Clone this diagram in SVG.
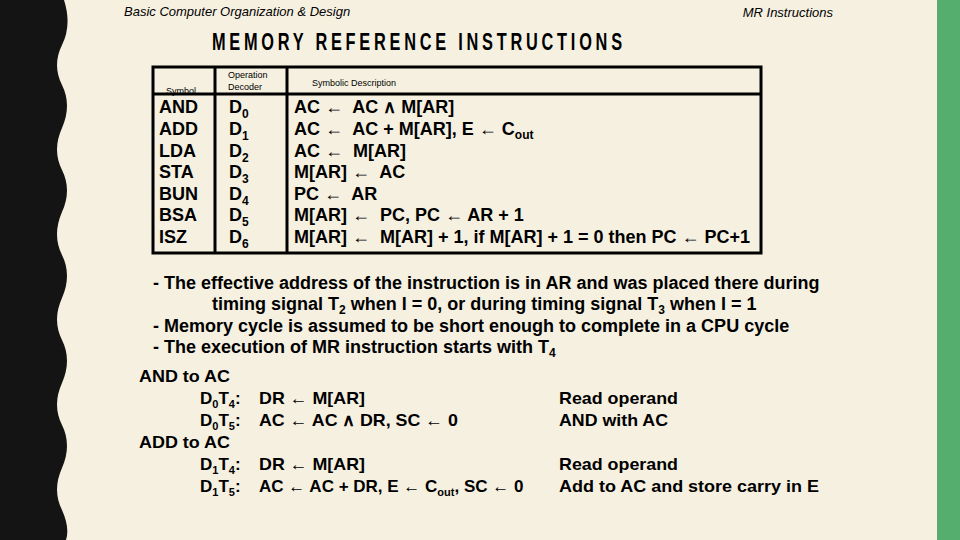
<svg xmlns="http://www.w3.org/2000/svg" width="960" height="540" viewBox="0 0 960 540">
<style>
text{font-family:"Liberation Sans",Arial,sans-serif;fill:#000}
.b{font-weight:bold;font-size:18px}
.s{font-size:9px}
.i{font-style:italic;font-size:13px}
.n{font-weight:bold;font-size:17px}
</style>
<rect width="960" height="540" fill="#F6F0E0"/>
<path d="M0 0 H64 Q72 25 62 45 Q52 65 62 85 Q72 105 62 128 Q52 150 62 170 Q72 190 62 212 Q52 235 62 255 Q72 275 62 298 Q52 320 62 340 Q72 360 62 383 Q52 405 62 425 Q72 445 62 468 Q52 490 62 510 Q70 528 66 540 H0Z" fill="#141414"/>
<rect x="937" y="0" width="23" height="540" fill="#55AE6E"/>
<g id="header">
<text class="i" x="124" y="16">Basic Computer Organization &amp; Design</text>
<text class="i" x="833" y="17" text-anchor="end">MR Instructions</text>
<text transform="translate(212,50) scale(0.68,1)" x="0" y="0" font-size="24" font-weight="bold" letter-spacing="5" textLength="608" lengthAdjust="spacing">MEMORY  REFERENCE  INSTRUCTIONS</text>
</g>
<g id="table" fill="none" stroke="#000" stroke-width="3">
<rect x="153" y="67" width="608" height="186"/>
<line x1="153" y1="94" x2="761" y2="94"/>
<line x1="215" y1="67" x2="215" y2="253"/>
<line x1="287" y1="67" x2="287" y2="253"/>
</g>
<g id="table-text">
<text class="s" x="166" y="94">Symbol</text>
<text class="s" x="228" y="78">Operation</text>
<text class="s" x="228" y="90">Decoder</text>
<text class="s" x="312" y="86">Symbolic Description</text>
<text class="b" x="159" y="113">AND</text>
<text class="b" x="159" y="135">ADD</text>
<text class="b" x="159" y="157">LDA</text>
<text class="b" x="159" y="178">STA</text>
<text class="b" x="159" y="200">BUN</text>
<text class="b" x="159" y="221">BSA</text>
<text class="b" x="159" y="243">ISZ</text>
<text class="b" x="229" y="113">D<tspan font-size="12" dy="5">0</tspan></text>
<text class="b" x="229" y="135">D<tspan font-size="12" dy="5">1</tspan></text>
<text class="b" x="229" y="157">D<tspan font-size="12" dy="5">2</tspan></text>
<text class="b" x="229" y="178">D<tspan font-size="12" dy="5">3</tspan></text>
<text class="b" x="229" y="200">D<tspan font-size="12" dy="5">4</tspan></text>
<text class="b" x="229" y="221">D<tspan font-size="12" dy="5">5</tspan></text>
<text class="b" x="229" y="243">D<tspan font-size="12" dy="5">6</tspan></text>
<text class="b" x="294" y="113" xml:space="preserve">AC ←  AC ∧ M[AR]</text>
<text class="b" x="294" y="135" xml:space="preserve">AC ←  AC + M[AR], E ← C<tspan font-size="12" dy="4">out</tspan></text>
<text class="b" x="294" y="157" xml:space="preserve">AC ←  M[AR]</text>
<text class="b" x="294" y="178" xml:space="preserve">M[AR] ←  AC</text>
<text class="b" x="294" y="200" xml:space="preserve">PC ←  AR</text>
<text class="b" x="294" y="221" xml:space="preserve">M[AR] ←  PC, PC ← AR + 1</text>
<text class="b" x="294" y="243" xml:space="preserve">M[AR] ←  M[AR] + 1, if M[AR] + 1 = 0 then PC ← PC+1</text>
</g>
<g id="notes">
<text class="b" x="153" y="289">- The effective address of the instruction is in AR and was placed there during</text>
<text class="b" x="212" y="310">timing signal T<tspan font-size="12" dy="4">2</tspan><tspan dy="-4"> when I = 0, or during timing signal T</tspan><tspan font-size="12" dy="4">3</tspan><tspan dy="-4"> when I = 1</tspan></text>
<text class="b" x="153" y="332">- Memory cycle is assumed to be short enough to complete in a CPU cycle</text>
<text class="b" x="153" y="353">- The execution of MR instruction starts with T<tspan font-size="12" dy="4">4</tspan></text>
</g>
<g id="micro">
<text class="n" x="139" y="382" textLength="91" lengthAdjust="spacingAndGlyphs">AND to AC</text>
<text class="n" x="200" y="404">D<tspan font-size="11" dy="4">0</tspan><tspan dy="-4">T</tspan><tspan font-size="11" dy="4">4</tspan><tspan dy="-4">:</tspan></text>
<text class="n" x="259" y="404" textLength="106" lengthAdjust="spacingAndGlyphs">DR ← M[AR]</text>
<text class="n" x="559" y="404" textLength="119" lengthAdjust="spacingAndGlyphs">Read operand</text>
<text class="n" x="200" y="426">D<tspan font-size="11" dy="4">0</tspan><tspan dy="-4">T</tspan><tspan font-size="11" dy="4">5</tspan><tspan dy="-4">:</tspan></text>
<text class="n" x="259" y="426" textLength="199" lengthAdjust="spacingAndGlyphs">AC ← AC ∧ DR, SC ← 0</text>
<text class="n" x="559" y="426" textLength="109" lengthAdjust="spacingAndGlyphs">AND with AC</text>
<text class="n" x="139" y="448" textLength="91" lengthAdjust="spacingAndGlyphs">ADD to AC</text>
<text class="n" x="200" y="470">D<tspan font-size="11" dy="4">1</tspan><tspan dy="-4">T</tspan><tspan font-size="11" dy="4">4</tspan><tspan dy="-4">:</tspan></text>
<text class="n" x="259" y="470" textLength="106" lengthAdjust="spacingAndGlyphs">DR ← M[AR]</text>
<text class="n" x="559" y="470" textLength="119" lengthAdjust="spacingAndGlyphs">Read operand</text>
<text class="n" x="200" y="492">D<tspan font-size="11" dy="4">1</tspan><tspan dy="-4">T</tspan><tspan font-size="11" dy="4">5</tspan><tspan dy="-4">:</tspan></text>
<text class="n" x="259" y="492">AC ← AC + DR, E ← C<tspan font-size="11" dy="4">out</tspan><tspan dy="-4">, SC ← 0</tspan></text>
<text class="n" x="559" y="492" textLength="260" lengthAdjust="spacingAndGlyphs">Add to AC and store carry in E</text>
</g>
</svg>
